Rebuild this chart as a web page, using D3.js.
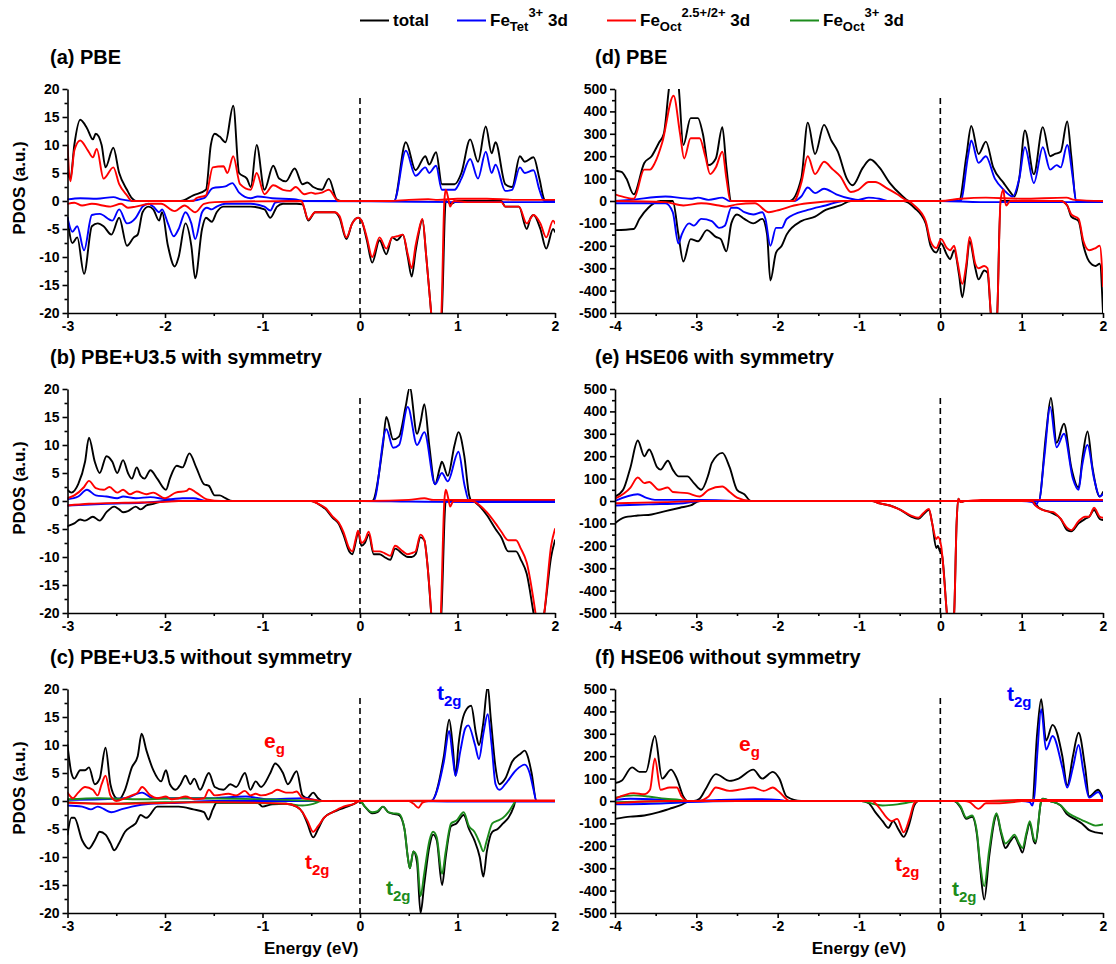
<!DOCTYPE html>
<html><head><meta charset="utf-8">
<script src="https://cdn.jsdelivr.net/npm/d3@7"></script>
<style>
body{margin:0;background:#fff}
svg{display:block}
text{font-family:"Liberation Sans",Arial,sans-serif;font-weight:bold;white-space:pre}
</style>
</head><body>
<svg id="chart" width="1116" height="964"></svg>
<script>
// ---- PDOS data: [energy (eV), density] pairs; positive = spin up, negative = spin down ----

// (a) PBE
const aTotalUp = [[-3,5],[-2.97,4],[-2.93,10],[-2.87,14.5],[-2.8,13],[-2.74,11],[-2.71,12],[-2.65,10],[-2.61,6],[-2.53,9.5],[-2.47,5],[-2.39,2],[-2.34,0.5],[-2.3,0],[-1.84,0],[-1.71,1],[-1.58,2],[-1.53,10],[-1.49,12],[-1.44,11.5],[-1.38,10.5],[-1.3,17],[-1.24,5],[-1.16,4],[-1.12,2.5],[-1.06,10],[-0.98,2],[-0.89,6.3],[-0.83,4],[-0.76,3.5],[-0.67,5.8],[-0.59,3],[-0.54,3.3],[-0.48,2.5],[-0.39,2],[-0.32,4],[-0.24,0.3],[-0.2,0],[0.35,0],[0.47,10.5],[0.57,5.5],[0.67,8],[0.71,6.5],[0.78,8.7],[0.84,3],[0.97,3],[1.04,5],[1.13,11],[1.21,7],[1.29,13.3],[1.35,8.5],[1.39,10.5],[1.49,3],[1.56,2.5],[1.64,8],[1.69,7],[1.78,7.8],[1.84,4],[1.89,0.3],[1.92,0],[2,0]];
const aTotalDn = [[-3,-3],[-2.95,-7.5],[-2.9,-6.5],[-2.83,-13],[-2.75,-4.5],[-2.69,-4],[-2.63,-4.5],[-2.55,-6],[-2.47,-3],[-2.39,-8],[-2.32,-6.5],[-2.28,-6],[-2.23,-2],[-2.17,-1],[-2.12,-1.5],[-2.06,-3.5],[-2.03,-2],[-1.97,-8],[-1.9,-11.7],[-1.86,-10],[-1.79,-4],[-1.73,-8],[-1.69,-13.8],[-1.62,-5],[-1.58,-3],[-1.52,-3.7],[-1.47,-2],[-1.4,-1],[-1.12,-1],[-0.98,-1.5],[-0.92,-3],[-0.85,-1],[-0.79,-0.5],[-0.65,-0.5],[-0.59,-0.6],[-0.53,-3.5],[-0.46,-2],[-0.26,-2],[-0.21,-3],[-0.14,-6.8],[-0.08,-4],[-0.02,-3],[0.015,-3.5],[0.07,-7],[0.125,-11],[0.2,-7],[0.27,-9.5],[0.33,-6.5],[0.38,-7],[0.44,-6],[0.49,-10],[0.53,-13.5],[0.57,-9],[0.6,-6],[0.64,-3.3],[0.68,-10],[0.73,-20],[0.78,-30],[0.84,-20],[0.88,0],[0.93,-0.5],[1,0],[1.45,0],[1.49,-1],[1.63,-1],[1.71,-5],[1.75,-3],[1.78,-2.5],[1.85,-5],[1.91,-8.5],[1.98,-5],[2,-5.5]];
const aTetUp = [[-3,0.3],[-2.87,0.5],[-2.7,0.4],[-2.53,0.7],[-2.45,0.3],[-2.3,0],[-1.75,0],[-1.6,0.5],[-1.51,2.3],[-1.38,2.6],[-1.31,3.2],[-1.24,1.5],[-1.12,0.5],[-1.05,0.8],[-0.9,0.5],[-0.68,0.3],[-0.54,0],[0.35,0],[0.47,9],[0.57,4.5],[0.67,6],[0.71,5],[0.78,6.3],[0.84,2],[0.97,2],[1.04,4],[1.13,7.5],[1.21,4],[1.29,8.8],[1.35,5],[1.39,6.5],[1.49,1.8],[1.56,2],[1.64,6],[1.69,5],[1.78,5.5],[1.84,2],[1.89,0],[2,0]];
const aTetDn = [[-3,-3],[-2.95,-5.5],[-2.9,-4.5],[-2.83,-8.8],[-2.75,-2.5],[-2.67,-2.3],[-2.54,-3.5],[-2.47,-1.5],[-2.39,-4],[-2.3,-3],[-2.23,-1],[-2.17,-0.5],[-2.12,-1],[-2.06,-2],[-2.03,-1.5],[-1.97,-4],[-1.91,-6.3],[-1.86,-5],[-1.79,-2],[-1.73,-4],[-1.69,-6.8],[-1.62,-2],[-1.57,-1.2],[-1.52,-1.5],[-1.47,-1],[-1.38,-0.5],[-1.12,-0.5],[-0.98,-1],[-0.92,-1.7],[-0.87,-0.3],[-0.76,0],[0.3,-0.1],[1,-0.2],[2,-0.2]];
const aOctUp = [[-3,10],[-2.97,3.5],[-2.93,9],[-2.87,10.8],[-2.79,9],[-2.74,7.8],[-2.7,9.3],[-2.63,4],[-2.53,6],[-2.47,3],[-2.39,1],[-2.34,0],[-1.71,0],[-1.68,0.5],[-1.58,1],[-1.51,6],[-1.4,6.2],[-1.36,5],[-1.3,8],[-1.23,3],[-1.12,2],[-1.06,5],[-0.98,1.2],[-0.89,2.8],[-0.79,2],[-0.72,1.8],[-0.66,2.5],[-0.57,1.2],[-0.5,1.5],[-0.46,1.3],[-0.39,1.5],[-0.32,2],[-0.22,0],[0.3,0],[0.5,0.2],[0.7,0.3],[0.8,0.2],[1,0.4],[1.3,0.4],[1.6,0.2],[2,0.2]];
const aOctDn = [[-3,-0.5],[-2.93,-0.3],[-2.85,-0.8],[-2.75,-0.5],[-2.56,-1],[-2.45,-0.5],[-2.38,-1.2],[-2.3,-1],[-2.15,-0.5],[-2.04,-0.5],[-1.9,-1.8],[-1.8,-0.8],[-1.69,-2],[-1.6,-0.5],[-1.49,-0.2],[-0.6,0],[-0.59,-0.3],[-0.53,-3.3],[-0.46,-2],[-0.26,-2],[-0.21,-2.7],[-0.14,-6.5],[-0.08,-4],[-0.02,-3],[0.015,-3.5],[0.07,-6.5],[0.125,-10],[0.2,-6.5],[0.27,-8.5],[0.33,-6.5],[0.38,-6.3],[0.44,-6],[0.49,-9.5],[0.53,-12],[0.57,-8],[0.6,-5.5],[0.64,-3.2],[0.68,-10],[0.73,-20],[0.78,-30],[0.835,-20],[0.865,0],[0.88,2],[0.905,0.5],[0.925,-1],[0.95,-0.2],[0.97,0],[1.1,-0.2],[1.45,-0.2],[1.49,-1],[1.63,-1],[1.71,-4],[1.78,-2.5],[1.85,-4],[1.91,-6.5],[1.98,-3.5],[2,-4]];

// (b) PBE+U3.5 with symmetry
const bTotalUp = [[-3,2],[-2.96,1.5],[-2.89,3],[-2.82,7],[-2.78,11.3],[-2.72,7],[-2.67,5],[-2.6,8],[-2.54,7],[-2.49,5],[-2.43,7.3],[-2.38,5],[-2.34,4],[-2.29,6],[-2.25,4.5],[-2.21,4],[-2.15,5.5],[-2.08,4],[-1.99,2],[-1.95,4],[-1.88,6.3],[-1.82,6],[-1.75,8.5],[-1.68,6],[-1.6,3],[-1.55,2.7],[-1.49,1],[-1.44,1],[-1.38,0.5],[-1.31,0],[0.125,0],[0.235,10],[0.27,15],[0.34,11],[0.4,11.5],[0.47,17],[0.51,20.3],[0.585,12],[0.62,14],[0.66,17.3],[0.71,10],[0.77,3],[0.82,6],[0.84,7],[0.9,4.5],[0.97,10],[1.01,12.3],[1.07,8],[1.12,1],[1.15,0],[2,0]];
const bTotalDn = [[-3,-4.5],[-2.93,-4],[-2.87,-3.3],[-2.82,-3.5],[-2.74,-2.8],[-2.67,-3.5],[-2.6,-2],[-2.52,-1],[-2.47,-1.5],[-2.43,-2],[-2.38,-1.8],[-2.3,-1],[-2.25,-1.5],[-2.19,-0.8],[-2.12,-0.5],[-2,0],[-0.5,0],[-0.43,-0.5],[-0.35,-1.5],[-0.28,-3],[-0.22,-4],[-0.17,-6],[-0.11,-9],[-0.08,-9.5],[-0.04,-7],[-0.02,-5.5],[0.015,-8],[0.05,-7.5],[0.09,-6],[0.14,-9.5],[0.2,-9.5],[0.25,-10],[0.31,-10.5],[0.36,-8.5],[0.44,-9.5],[0.49,-10],[0.53,-10],[0.57,-9.5],[0.62,-6.5],[0.66,-7],[0.695,-12],[0.73,-20],[0.78,-30],[0.835,-20],[0.88,0],[1.15,0],[1.23,-1],[1.3,-2.5],[1.39,-5],[1.45,-6.5],[1.52,-9],[1.6,-9],[1.65,-10.5],[1.71,-13],[1.78,-20],[1.83,-25],[1.89,-20],[1.96,-10],[2,-7]];
const bTetUp = [[-3,0.3],[-2.89,0.8],[-2.8,2],[-2.71,1],[-2.6,0.8],[-2.49,0.5],[-2.43,0.8],[-2.3,0.5],[-2.15,0.7],[-1.97,0.3],[-1.82,0.5],[-1.71,0.5],[-1.57,0],[0.14,0],[0.27,12.8],[0.34,9.5],[0.4,10],[0.49,16.8],[0.585,10],[0.66,12.3],[0.77,3],[0.84,5],[0.9,3.5],[1.01,8.8],[1.07,3],[1.12,0],[2,0]];
const bTetDn = [[-3,-0.8],[-2.6,-0.5],[-2.23,-0.3],[-1.93,0],[0,0],[0.5,-0.1],[1.2,-0.2],[2,-0.2]];
const bOctUp = [[-3,0.5],[-2.93,1],[-2.83,2.5],[-2.78,3.6],[-2.71,2.3],[-2.63,2],[-2.57,2.5],[-2.49,1.5],[-2.43,2],[-2.36,1.2],[-2.29,1.7],[-2.19,1.2],[-2.12,1.5],[-2,0.5],[-1.89,1.5],[-1.78,1.8],[-1.75,2.2],[-1.68,1.5],[-1.57,0.3],[-1.42,0],[0.1,0],[0.5,0.2],[0.66,0.5],[0.75,0.2],[1,0.2],[2,0.2]];
const bOctDn = [[-3,-0.8],[-2.78,-0.5],[-2.41,-0.3],[-2.04,-0.2],[-1.86,0],[-0.5,0],[-0.43,-0.5],[-0.35,-1.3],[-0.28,-2.8],[-0.22,-3.8],[-0.17,-5.5],[-0.11,-8.5],[-0.08,-9],[-0.04,-6.5],[-0.02,-5.3],[0.015,-7.5],[0.05,-7],[0.09,-5.5],[0.14,-9],[0.2,-9],[0.25,-9.3],[0.31,-9.8],[0.36,-8],[0.44,-9],[0.49,-9.5],[0.53,-9.3],[0.57,-9],[0.62,-6],[0.66,-7],[0.695,-12],[0.73,-20],[0.78,-40],[0.83,-20],[0.865,0],[0.88,2],[0.905,0.5],[0.925,-1],[0.95,-0.2],[0.97,0],[1.15,0],[1.23,-0.8],[1.3,-2],[1.39,-4],[1.45,-5.5],[1.52,-7],[1.6,-7],[1.65,-8.5],[1.71,-11],[1.8,-20],[1.84,-25],[1.89,-20],[1.96,-8],[2,-5]];

// (c) PBE+U3.5 without symmetry
const cTotalUp = [[-3,10],[-2.96,5],[-2.93,4],[-2.87,5.5],[-2.82,5.5],[-2.78,6],[-2.72,3],[-2.67,4],[-2.61,9.5],[-2.56,3],[-2.5,0.5],[-2.47,0.3],[-2.41,2],[-2.34,6],[-2.28,8],[-2.24,12],[-2.19,9],[-2.12,5.5],[-2.04,3.5],[-1.99,5.5],[-1.95,3],[-1.89,2],[-1.84,3],[-1.79,4.5],[-1.74,3],[-1.7,4],[-1.64,2],[-1.55,5],[-1.49,2.5],[-1.4,2],[-1.33,3],[-1.27,2.5],[-1.18,5],[-1.125,2],[-1.07,3.5],[-1.015,2.5],[-0.92,5],[-0.87,6.7],[-0.79,5],[-0.74,3],[-0.65,5.3],[-0.59,1],[-0.54,0.5],[-0.48,1.5],[-0.43,0.5],[-0.39,0],[0.73,0],[0.86,8],[0.915,14.5],[0.95,10],[0.98,4.5],[1.01,10],[1.08,16],[1.14,17],[1.19,12],[1.22,10],[1.265,14],[1.31,20.5],[1.34,15],[1.39,6],[1.43,3],[1.49,4],[1.56,7],[1.65,8.5],[1.69,9],[1.72,8],[1.76,5],[1.81,0],[2,0]];
const cTotalDn = [[-3,-6],[-2.96,-3],[-2.93,-3],[-2.85,-7],[-2.78,-8.5],[-2.72,-7],[-2.67,-5.5],[-2.61,-6],[-2.56,-7.5],[-2.52,-8.8],[-2.47,-7.5],[-2.41,-5.5],[-2.34,-4.5],[-2.3,-4],[-2.25,-2.5],[-2.19,-3],[-2.08,-1],[-1.86,-1],[-1.71,-1.5],[-1.6,-2],[-1.555,-3.3],[-1.51,-1.5],[-1.47,-0.3],[-1.05,-0.3],[-1,-1],[-0.9,-0.6],[-0.76,-0.5],[-0.65,-1],[-0.59,-2],[-0.54,-4],[-0.48,-6.5],[-0.43,-5],[-0.37,-3],[-0.28,-2],[-0.21,-1.5],[-0.13,-1],[-0.06,-0.5],[0,0],[0.05,-1],[0.125,-2.2],[0.18,-2],[0.235,-1],[0.29,-2],[0.345,-2.3],[0.4,-2.5],[0.456,-5],[0.49,-10],[0.511,-12],[0.548,-9],[0.585,-11],[0.621,-20],[0.658,-15],[0.713,-8],[0.75,-6],[0.787,-7],[0.842,-15],[0.879,-10],[0.934,-4.5],[0.989,-4],[1.063,-2.5],[1.118,-5],[1.173,-7],[1.228,-10],[1.265,-13.5],[1.301,-9],[1.357,-5.5],[1.412,-5],[1.467,-4],[1.522,-3],[1.577,-1],[1.596,0],[2,0]];
const cTetUp = [[-3,0.2],[-2.41,0.5],[-2.235,1.5],[-2.12,0.5],[-1.57,0.5],[-1.17,0.8],[-0.94,0.3],[-0.57,0.5],[-0.39,0],[0.73,0],[0.86,7],[0.915,12.5],[0.95,8],[0.98,4.5],[1.03,9],[1.08,13],[1.11,13.5],[1.18,10],[1.22,7.5],[1.265,12],[1.31,15.5],[1.35,10],[1.39,3],[1.43,2],[1.49,3],[1.6,5.5],[1.69,6.5],[1.74,5],[1.78,2],[1.81,0],[2,0]];
const cTetDn = [[-3,-0.8],[-2.85,-1],[-2.76,-1.5],[-2.69,-1],[-2.55,-2],[-2.45,-1.5],[-2.34,-1],[-2.15,-0.5],[-1.86,-0.3],[-1.5,0],[0.5,0],[1,-0.1],[2,-0.1]];
const cOctUp = [[-3,1.5],[-2.945,0.5],[-2.89,1.5],[-2.82,2.5],[-2.74,2],[-2.69,1],[-2.65,3],[-2.61,4.5],[-2.56,1],[-2.5,0],[-2.41,0.5],[-2.34,1],[-2.28,1.5],[-2.235,2.5],[-2.15,1],[-2.08,0.5],[-1.99,0.8],[-1.93,0.3],[-1.86,0.5],[-1.79,0.8],[-1.7,0.3],[-1.6,0.5],[-1.55,2],[-1.49,1],[-1.35,1.3],[-1.27,1],[-1.18,1.8],[-1.125,1],[-1.07,1.3],[-1.015,1],[-0.9,1.5],[-0.85,2],[-0.76,1.5],[-0.7,1.5],[-0.65,1.7],[-0.59,0.5],[-0.46,0.2],[-0.39,0],[2,0.1]];
const cOctDn = [[-3,-0.3],[-2.6,-0.5],[-1.5,-0.2],[-0.76,-0.5],[-0.65,-1],[-0.59,-2],[-0.54,-3.5],[-0.48,-5.5],[-0.43,-4.5],[-0.37,-3],[-0.28,-2],[-0.17,-1],[-0.06,-0.5],[0,0],[0.5,0],[0.55,-0.5],[0.6,-1.2],[0.64,-0.3],[0.7,0],[2,0]];
const cOct3Up = [[-3,0.3],[-2.67,0.5],[-2.24,0.3],[-1.86,0.5],[-0.76,0.2],[-0.39,0],[2,0]];
const cOct3Dn = [[-3,-0.2],[-2.6,-0.5],[-2,-0.2],[-0.76,-0.5],[-0.59,-0.8],[-0.48,-0.5],[-0.39,0],[0,0],[0.05,-1],[0.125,-2],[0.18,-1.8],[0.235,-1],[0.29,-2],[0.345,-2.2],[0.4,-2.3],[0.456,-5],[0.49,-10],[0.511,-12],[0.548,-9],[0.585,-10],[0.621,-17],[0.658,-13],[0.713,-7],[0.75,-5.5],[0.787,-6.5],[0.842,-13],[0.879,-9],[0.934,-4],[0.989,-3.5],[1.063,-2],[1.118,-4.5],[1.173,-5.5],[1.228,-7.5],[1.265,-9],[1.301,-7],[1.357,-4],[1.412,-3.5],[1.467,-3],[1.522,-2],[1.577,-0.5],[1.596,0],[2,0]];

// (d) PBE
const dTotalUp = [[-4,135],[-3.92,130],[-3.86,100],[-3.77,30],[-3.64,170],[-3.55,200],[-3.46,260],[-3.4,300],[-3.33,520],[-3.28,600],[-3.22,520],[-3.16,250],[-3.07,370],[-2.98,370],[-2.92,300],[-2.85,160],[-2.76,190],[-2.68,330],[-2.63,150],[-2.57,0],[-1.85,0],[-1.71,100],[-1.63,350],[-1.54,210],[-1.43,340],[-1.34,270],[-1.26,220],[-1.15,100],[-1.08,70],[-0.95,150],[-0.86,185],[-0.75,150],[-0.62,80],[-0.49,30],[-0.38,0],[0.23,0],[0.32,200],[0.38,335],[0.47,210],[0.56,265],[0.65,150],[0.78,80],[0.86,40],[0.91,20],[0.97,100],[1.04,315],[1.15,120],[1.26,330],[1.35,200],[1.41,210],[1.48,220],[1.56,355],[1.61,200],[1.67,0],[2,0]];
const dTotalDn = [[-4,-130],[-3.77,-125],[-3.7,-80],[-3.59,-30],[-3.44,0],[-3.29,0],[-3.22,-150],[-3.16,-270],[-3.07,-170],[-2.98,-180],[-2.87,-130],[-2.76,-160],[-2.7,-170],[-2.63,-225],[-2.57,-100],[-2.5,-60],[-2.41,-80],[-2.3,-100],[-2.19,-80],[-2.13,-150],[-2.09,-355],[-2.02,-230],[-1.95,-200],[-1.89,-150],[-1.71,-90],[-1.54,-70],[-1.41,-40],[-1.23,-20],[-1.1,0],[-0.45,0],[-0.32,-30],[-0.18,-100],[-0.12,-200],[-0.05,-230],[0.01,-190],[0.08,-240],[0.12,-260],[0.17,-220],[0.23,-330],[0.27,-430],[0.32,-300],[0.36,-180],[0.43,-300],[0.47,-350],[0.54,-310],[0.58,-320],[0.62,-500],[0.66,-650],[0.7,-500],[0.74,0],[1.48,0],[1.56,-20],[1.61,-70],[1.7,-90],[1.76,-200],[1.83,-270],[1.91,-290],[1.96,-280],[2,-500]];
const dTetUp = [[-4,0],[-3.81,5],[-3.38,20],[-3.07,10],[-2.98,15],[-2.85,5],[-2.68,15],[-2.59,0],[-1.8,0],[-1.71,20],[-1.63,60],[-1.54,35],[-1.43,55],[-1.28,30],[-1.1,10],[-1.01,5],[-0.88,15],[-0.75,10],[-0.62,0],[0.25,0],[0.34,200],[0.38,270],[0.47,170],[0.56,200],[0.67,100],[0.78,50],[0.89,20],[0.97,100],[1.04,240],[1.15,80],[1.26,240],[1.35,140],[1.43,160],[1.48,150],[1.56,250],[1.63,100],[1.67,0],[2,0]];
const dTetDn = [[-4,-10],[-3.38,-10],[-3.29,-50],[-3.22,-190],[-3.18,-150],[-3.09,-100],[-3.03,-110],[-2.94,-80],[-2.81,-90],[-2.72,-120],[-2.65,-110],[-2.57,-30],[-2.5,-30],[-2.41,-50],[-2.3,-60],[-2.19,-50],[-2.15,-80],[-2.09,-200],[-2.02,-120],[-1.95,-120],[-1.89,-80],[-1.63,-40],[-1.41,-20],[-1.19,0],[0,0],[0.5,-5],[2,-5]];
const dOctUp = [[-4,30],[-3.86,15],[-3.77,10],[-3.64,140],[-3.57,140],[-3.51,170],[-3.42,260],[-3.28,470],[-3.2,300],[-3.15,190],[-3.07,280],[-2.96,280],[-2.89,200],[-2.83,120],[-2.76,150],[-2.68,220],[-2.63,100],[-2.58,0],[-1.8,0],[-1.71,80],[-1.63,200],[-1.54,120],[-1.43,175],[-1.32,140],[-1.23,110],[-1.1,40],[-1.01,50],[-0.88,85],[-0.8,85],[-0.67,60],[-0.53,30],[-0.38,0],[0,0],[0.25,10],[0.56,15],[1,10],[1.55,15],[1.65,5],[2,0]];
const dOctDn = [[-4,0],[-3.38,-5],[-3.16,-20],[-2.94,-10],[-2.72,-20],[-2.63,-25],[-2.5,-15],[-2.28,-10],[-2.11,-50],[-1.98,-40],[-1.8,-20],[-1.63,-10],[-1.19,0],[-0.4,0],[-0.32,-20],[-0.18,-90],[-0.12,-180],[-0.05,-210],[0.01,-170],[0.08,-210],[0.12,-220],[0.17,-200],[0.21,-270],[0.27,-370],[0.32,-280],[0.36,-160],[0.43,-280],[0.47,-300],[0.54,-290],[0.58,-300],[0.62,-500],[0.66,-650],[0.7,-500],[0.74,0],[0.775,50],[0.79,10],[0.81,-20],[0.86,0],[1.48,0],[1.56,-20],[1.61,-60],[1.7,-80],[1.76,-180],[1.83,-220],[1.91,-210],[1.96,-200],[2,-380]];

// (e) HSE06 with symmetry
const eTotalUp = [[-4,20],[-3.9,50],[-3.81,150],[-3.72,270],[-3.64,200],[-3.58,230],[-3.48,150],[-3.44,140],[-3.35,180],[-3.29,140],[-3.22,110],[-3.11,110],[-3.03,80],[-2.94,50],[-2.85,120],[-2.81,170],[-2.68,215],[-2.59,150],[-2.5,50],[-2.41,30],[-2.33,0],[1.21,0],[1.3,300],[1.36,460],[1.43,260],[1.52,345],[1.61,150],[1.7,60],[1.75,200],[1.81,310],[1.87,150],[1.96,20],[2,40]];
const eTotalDn = [[-4,-100],[-3.9,-75],[-3.72,-65],[-3.55,-60],[-3.38,-45],[-3.2,-30],[-3.07,-20],[-2.96,0],[-0.84,0],[-0.75,-10],[-0.62,-20],[-0.49,-40],[-0.36,-70],[-0.27,-80],[-0.21,-60],[-0.14,-40],[-0.1,-100],[-0.05,-210],[-0.03,-200],[-0.01,-220],[0.02,-240],[0.08,-500],[0.12,-650],[0.17,-500],[0.2,-100],[0.22,10],[0.25,-5],[0.3,0],[1.13,0],[1.21,-30],[1.35,-50],[1.48,-80],[1.56,-130],[1.61,-135],[1.7,-100],[1.78,-80],[1.83,-70],[1.89,-40],[1.96,-80],[2,-85]];
const eTetUp = [[-4,0],[-3.72,30],[-3.62,15],[-3.51,5],[-2.94,5],[-2.68,3],[-2.5,0],[1.21,0],[1.28,200],[1.35,420],[1.43,240],[1.52,300],[1.63,100],[1.7,50],[1.74,150],[1.81,250],[1.89,100],[1.96,20],[2,30]];
const eTetDn = [[-4,-20],[-3.59,-15],[-3.16,-10],[-2.94,0],[1,0],[1.13,-5],[1.17,-20],[1.21,0],[2,0]];
const eOctUp = [[-4,10],[-3.81,60],[-3.72,105],[-3.64,80],[-3.58,85],[-3.46,50],[-3.35,60],[-3.29,40],[-3.11,35],[-2.96,20],[-2.85,50],[-2.68,65],[-2.59,40],[-2.5,15],[-2.33,0],[0.3,0],[0.5,5],[2,5]];
const eOctDn = [[-4,-10],[-3.38,-5],[-2.94,0],[-0.84,0],[-0.75,-10],[-0.62,-20],[-0.49,-40],[-0.36,-65],[-0.27,-75],[-0.21,-55],[-0.14,-35],[-0.1,-100],[-0.05,-170],[-0.03,-160],[0.01,-200],[0.08,-500],[0.12,-650],[0.17,-500],[0.2,-100],[0.22,10],[0.25,-5],[0.3,0],[1.13,0],[1.17,-20],[1.3,-45],[1.39,-50],[1.48,-80],[1.56,-120],[1.61,-130],[1.7,-90],[1.78,-70],[1.83,-70],[1.89,-30],[1.96,-70],[2,-75]];

// (f) HSE06 without symmetry
const fTotalUp = [[-4,80],[-3.92,90],[-3.79,150],[-3.7,130],[-3.62,130],[-3.51,290],[-3.42,100],[-3.31,140],[-3.24,100],[-3.16,20],[-3.11,0],[-3.03,0],[-2.96,10],[-2.89,50],[-2.76,120],[-2.59,90],[-2.48,100],[-2.3,140],[-2.19,100],[-2.06,130],[-1.98,100],[-1.89,20],[-1.71,0],[1.13,0],[1.19,300],[1.24,455],[1.3,270],[1.38,340],[1.5,200],[1.56,70],[1.63,200],[1.7,305],[1.78,150],[1.83,20],[1.94,50],[2,10]];
const fTotalDn = [[-4,-80],[-3.81,-70],[-3.64,-65],[-3.46,-50],[-3.33,-35],[-3.2,-20],[-3.07,0],[-0.97,0],[-0.88,-10],[-0.8,-50],[-0.71,-90],[-0.64,-120],[-0.58,-90],[-0.51,-130],[-0.45,-160],[-0.38,-100],[-0.32,-20],[-0.27,0],[0.17,0],[0.25,-30],[0.32,-80],[0.39,-70],[0.45,-150],[0.49,-300],[0.54,-440],[0.6,-250],[0.67,-80],[0.69,-60],[0.75,-150],[0.8,-210],[0.86,-180],[0.91,-160],[0.97,-200],[1.01,-230],[1.06,-150],[1.1,-100],[1.15,-180],[1.17,-190],[1.24,0],[1.26,10],[1.35,0],[1.48,-20],[1.56,-60],[1.65,-80],[1.74,-100],[1.83,-130],[1.91,-140],[2,-145]];
const fTetUp = [[-4,5],[-3.81,10],[-3.38,5],[-3.11,0],[-2.72,5],[-2.28,8],[-1.98,5],[-1.89,0],[1.15,0],[1.19,200],[1.24,410],[1.3,230],[1.38,290],[1.5,150],[1.56,60],[1.63,150],[1.7,250],[1.76,130],[1.83,15],[1.94,40],[2,5]];
const fTetDn = [[-4,-15],[-3.38,-10],[-3.11,-5],[-2.5,0],[1,0],[1.1,-5],[1.13,-20],[1.15,0],[2,0]];
const fOctUp = [[-4,10],[-3.77,35],[-3.64,30],[-3.57,50],[-3.51,190],[-3.44,50],[-3.33,60],[-3.24,60],[-3.18,20],[-3.11,0],[-2.98,0],[-2.85,20],[-2.76,60],[-2.59,45],[-2.48,50],[-2.3,60],[-2.17,45],[-2.06,60],[-1.98,40],[-1.85,0],[0.5,0],[1,5],[2,5]];
const fOctDn = [[-4,-10],[-3.38,0],[-0.84,0],[-0.8,-10],[-0.73,-40],[-0.67,-70],[-0.6,-90],[-0.53,-80],[-0.45,-140],[-0.38,-80],[-0.32,-10],[-0.27,0],[0.3,0],[0.36,-5],[0.47,-35],[0.56,-10],[0.73,-10],[0.91,-5],[1,0],[2,0]];
const fOct3Up = [[-4,15],[-3.77,25],[-3.59,20],[-3.38,10],[-3.2,5],[-3.11,0],[2,0]];
const fOct3Dn = [[-4,-5],[-3.1,0],[-0.97,0],[-0.8,-15],[-0.71,-20],[-0.53,-15],[-0.36,-5],[-0.27,0],[0.17,0],[0.25,-25],[0.32,-75],[0.39,-65],[0.45,-140],[0.49,-280],[0.54,-380],[0.6,-220],[0.67,-70],[0.69,-55],[0.75,-140],[0.8,-190],[0.86,-170],[0.91,-150],[0.97,-190],[1.01,-210],[1.06,-140],[1.1,-90],[1.15,-170],[1.17,-180],[1.24,0],[1.26,10],[1.35,0],[1.48,-20],[1.56,-50],[1.65,-70],[1.74,-85],[1.83,-100],[1.91,-110],[2,-105]];

// ---- axis ranges and labels ----
const leftEnergyTicks = [-3, -2, -1, 0, 1, 2];
const rightEnergyTicks = [-4, -3, -2, -1, 0, 1, 2];
const leftPdosTicks = [-20, -15, -10, -5, 0, 5, 10, 15, 20];
const rightPdosTicks = [-500, -400, -300, -200, -100, 0, 100, 200, 300, 400, 500];
const panelTitles = ["(a) PBE", "(b) PBE+U3.5 with symmetry", "(c) PBE+U3.5 without symmetry",
                     "(d) PBE", "(e) HSE06 with symmetry", "(f) HSE06 without symmetry"];

const COLOR = { total: "#000000", tet: "#0000ff", oct: "#ff0000", oct3: "#1c8c1c" };

// ---- layout ----
const svg = d3.select("#chart");
const columns = [
  { x0: 67.5, x1: 555, xdom: [-3, 2], ydom: [-20, 20], xt: leftEnergyTicks, yt: leftPdosTicks, ystep: 5 },
  { x0: 615, x1: 1103, xdom: [-4, 2], ydom: [-500, 500], xt: rightEnergyTicks, yt: rightPdosTicks, ystep: 100 }
];
const rowTops = [89, 389, 689];
const plotH = 224;

const panels = [
  { col: 0, row: 0, title: panelTitles[0], series: [
      [aTotalUp, "total"], [aTotalDn, "total"], [aTetUp, "tet"], [aTetDn, "tet"], [aOctUp, "oct"], [aOctDn, "oct"]] },
  { col: 0, row: 1, title: panelTitles[1], series: [
      [bTotalUp, "total"], [bTotalDn, "total"], [bTetUp, "tet"], [bTetDn, "tet"], [bOctUp, "oct"], [bOctDn, "oct"]] },
  { col: 0, row: 2, title: panelTitles[2], series: [
      [cTotalUp, "total"], [cTotalDn, "total"], [cTetUp, "tet"], [cTetDn, "tet"], [cOct3Up, "oct3"], [cOct3Dn, "oct3"], [cOctUp, "oct"], [cOctDn, "oct"]] },
  { col: 1, row: 0, title: panelTitles[3], series: [
      [dTotalUp, "total"], [dTotalDn, "total"], [dTetUp, "tet"], [dTetDn, "tet"], [dOctUp, "oct"], [dOctDn, "oct"]] },
  { col: 1, row: 1, title: panelTitles[4], series: [
      [eTotalUp, "total"], [eTotalDn, "total"], [eTetUp, "tet"], [eTetDn, "tet"], [eOctUp, "oct"], [eOctDn, "oct"]] },
  { col: 1, row: 2, title: panelTitles[5], series: [
      [fTotalUp, "total"], [fTotalDn, "total"], [fTetUp, "tet"], [fTetDn, "tet"], [fOct3Up, "oct3"], [fOct3Dn, "oct3"], [fOctUp, "oct"], [fOctDn, "oct"]] }
];

// text with subscripts / superscripts: parts = [[text, "n"|"sub"|"sup"], ...]
function richText(g, x, y, parts, size, smallSize, color, subShift, supShift) {
  const t = g.append("text").attr("x", x).attr("y", y).attr("fill", color).style("font-size", size + "px");
  let cur = 0;
  parts.forEach(([s, kind]) => {
    const target = kind === "sub" ? subShift : kind === "sup" ? -supShift : 0;
    t.append("tspan").attr("dy", target - cur)
      .style("font-size", (kind === "n" ? size : smallSize) + "px").text(s);
    cur = target;
  });
  return t;
}

panels.forEach((p, i) => {
  const c = columns[p.col];
  const top = rowTops[p.row], bottom = top + plotH;
  const x = d3.scaleLinear().domain(c.xdom).range([c.x0, c.x1]);
  const y = d3.scaleLinear().domain(c.ydom).range([bottom, top]);
  const g = svg.append("g");

  // title
  g.append("text").attr("x", p.col === 0 ? 50 : 595).attr("y", top - 25)
    .style("font-size", "20px").attr("fill", "#000").text(p.title);

  // clip region = plot area
  const clipId = "clip" + i;
  svg.append("clipPath").attr("id", clipId).append("rect")
    .attr("x", c.x0).attr("y", top).attr("width", c.x1 - c.x0).attr("height", plotH);

  // Fermi level
  g.append("line").attr("x1", x(0)).attr("x2", x(0)).attr("y1", top + 9).attr("y2", bottom)
    .attr("stroke", "#000").attr("stroke-width", 1.6).attr("stroke-dasharray", "6,4");

  // curves
  const line = d3.line().x(d => x(d[0])).y(d => y(d[1])).curve(d3.curveMonotoneX);
  const cg = g.append("g").attr("clip-path", `url(#${clipId})`);
  p.series.forEach(([data, kind]) => {
    cg.append("path").attr("d", line(data)).attr("fill", "none")
      .attr("stroke", COLOR[kind]).attr("stroke-width", 1.9)
      .attr("stroke-linejoin", "round").attr("stroke-linecap", "round");
  });

  // axes
  const half = c.ystep / 2;
  const yMinor = d3.range(c.ydom[0] + half, c.ydom[1], c.ystep);
  const xMinor = d3.range(c.xdom[0] + 0.5, c.xdom[1], 1);
  const fmt = d => String(d);

  const ya = g.append("g").attr("transform", `translate(${c.x0},0)`)
    .call(d3.axisLeft(y).tickValues(c.yt).tickFormat(fmt).tickSize(5).tickSizeOuter(0).tickPadding(3));
  g.append("g").attr("transform", `translate(${c.x0},0)`)
    .call(d3.axisLeft(y).tickValues(yMinor).tickFormat("").tickSize(3).tickSizeOuter(0))
    .call(s => s.select(".domain").remove());
  const xa = g.append("g").attr("transform", `translate(0,${bottom})`)
    .call(d3.axisBottom(x).tickValues(c.xt).tickFormat(fmt).tickSize(5).tickSizeOuter(0).tickPadding(3));
  g.append("g").attr("transform", `translate(0,${bottom})`)
    .call(d3.axisBottom(x).tickValues(xMinor).tickFormat("").tickSize(3).tickSizeOuter(0))
    .call(s => s.select(".domain").remove());

  g.selectAll(".domain, .tick line").attr("stroke", "#000").attr("stroke-width", 1.6);
  g.selectAll(".tick text").attr("fill", "#000")
    .style("font-family", '"Liberation Sans", Arial, sans-serif')
    .style("font-weight", "bold").style("font-size", "14px");

  if (p.col === 0) {
    g.append("text").attr("transform", `translate(25,${top + plotH / 2 - 13}) rotate(-90)`)
      .attr("text-anchor", "middle").style("font-size", "17px").text("PDOS (a.u.)");
  }
  if (p.row === 2) {
    g.append("text").attr("x", (c.x0 + c.x1) / 2).attr("y", 954).attr("text-anchor", "middle")
      .style("font-size", "17px").text("Energy (eV)");
  }
});

// orbital annotations in panels (c) and (f)
const ann = svg.append("g");
const eg = [["e", "n"], ["g", "sub"]];
const t2g = [["t", "n"], ["2g", "sub"]];
[
  [264, 748, eg, COLOR.oct], [305, 869, t2g, COLOR.oct], [437, 700, t2g, COLOR.tet], [386, 895, t2g, COLOR.oct3],
  [739, 751, eg, COLOR.oct], [895, 871, t2g, COLOR.oct], [1007, 701, t2g, COLOR.tet], [952, 896, t2g, COLOR.oct3]
].forEach(([ax, ay, parts, col]) => richText(ann, ax, ay, parts, 21, 15, col, 6, 0));

// legend
const legend = svg.append("g");
const legendItems = [
  { x: 360, kind: "total", parts: [["total", "n"]] },
  { x: 457, kind: "tet", parts: [["Fe", "n"], ["Tet", "sub"], ["3+", "sup"], [" 3d", "n"]] },
  { x: 607, kind: "oct", parts: [["Fe", "n"], ["Oct", "sub"], ["2.5+/2+", "sup"], [" 3d", "n"]] },
  { x: 790, kind: "oct3", parts: [["Fe", "n"], ["Oct", "sub"], ["3+", "sup"], [" 3d", "n"]] }
];
legendItems.forEach(it => {
  legend.append("line").attr("x1", it.x).attr("x2", it.x + 29).attr("y1", 20.5).attr("y2", 20.5)
    .attr("stroke", COLOR[it.kind]).attr("stroke-width", 2);
  richText(legend, it.x + 33, 26, it.parts, 17, 13, "#000", 5, 9);
});
</script>
</body></html>
